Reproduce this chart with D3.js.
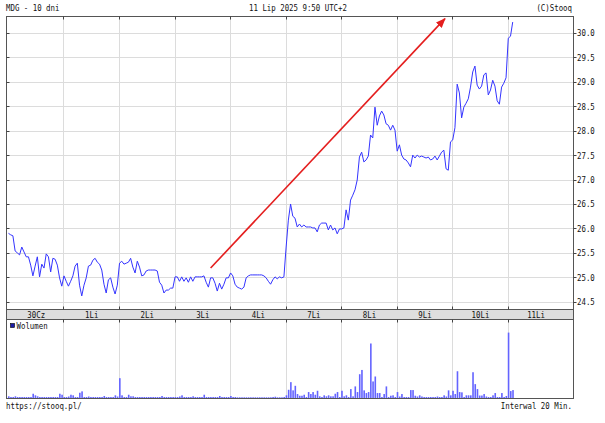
<!DOCTYPE html>
<html>
<head>
<meta charset="utf-8">
<script src="https://cdnjs.cloudflare.com/ajax/libs/d3/7.8.5/d3.min.js"></script>
<style>
  body { margin: 0; background: #fff; }
  svg { display: block; }
  text { font-family: 'DejaVu Sans Mono', monospace; font-size: 9px; fill: #111; }
</style>
</head>
<body>
<svg id="chart" width="605" height="423"></svg>
<script>
// MDG, 10 days, 20 minute bars (25 per session)
const dayLabels = ['30Cz', '1Li', '2Li', '3Li', '4Li', '7Li', '8Li', '9Li', '10Li', '11Li'];

const prices = [
  25.91, 25.88, 25.86, 25.55, 25.51, 25.47, 25.63, 25.53, 25.43, 25.43, 25.26, 25.04, 25.24, 25.43, 25.02, 25.28, 25.20, 25.49, 25.43, 25.12, 25.40, 25.38, 25.26, 25.00, 24.83,
  25.04, 24.93, 24.83, 24.93, 25.04, 25.24, 25.30, 24.85, 24.63, 24.85, 25.00, 25.24, 25.26, 25.36, 25.40, 25.32, 25.28, 25.16, 24.87, 24.69, 24.96, 25.00, 24.81, 24.67, 24.85,
  25.30, 25.34, 25.28, 25.30, 25.32, 25.40, 25.22, 25.10, 25.34, 25.22, 25.04, 25.06, 25.14, 25.16, 25.16, 25.16, 25.16, 25.14, 24.91, 24.85, 24.69, 24.75, 24.75, 24.79, 24.79,
  25.02, 25.02, 24.93, 25.02, 24.93, 25.00, 24.91, 25.02, 24.93, 25.02, 25.02, 25.02, 25.02, 25.04, 24.91, 24.81, 25.00, 25.00, 24.89, 24.73, 24.89, 24.77, 24.87, 25.00, 25.00,
  25.10, 25.04, 24.87, 24.81, 24.79, 24.77, 24.81, 25.00, 25.04, 25.06, 25.06, 25.06, 25.06, 25.06, 25.06, 25.04, 25.00, 24.93, 24.87, 24.96, 25.02, 24.98, 25.02, 25.00, 25.02,
  25.63, 26.18, 26.51, 26.26, 26.22, 26.04, 26.10, 26.04, 26.08, 26.04, 26.04, 26.04, 26.02, 26.02, 25.94, 26.08, 26.12, 26.12, 26.12, 25.98, 26.08, 25.98, 26.02, 25.90, 26.00,
  26.00, 26.02, 26.39, 26.18, 26.59, 26.69, 26.80, 27.00, 27.47, 27.57, 27.37, 27.41, 27.49, 27.92, 27.86, 28.49, 28.12, 28.31, 28.41, 28.33, 28.15, 28.12, 28.02, 28.12, 28.02,
  27.59, 27.72, 27.51, 27.43, 27.41, 27.35, 27.27, 27.51, 27.45, 27.51, 27.47, 27.49, 27.47, 27.45, 27.47, 27.41, 27.43, 27.49, 27.41, 27.49, 27.57, 27.61, 27.23, 27.20, 27.78,
  27.82, 28.07, 28.96, 28.78, 28.27, 28.49, 28.57, 28.66, 28.90, 29.21, 29.33, 28.94, 28.86, 28.92, 29.15, 29.19, 28.74, 28.84, 29.04, 28.92, 28.62, 28.55, 28.90, 28.98, 29.09,
  29.90, 29.94, 30.23,
];

const volumes = [
  170, 100, 100, 170, 100, 100, 100, 100, 100, 100, 100, 430, 270, 170, 100, 100, 100, 100, 100, 100, 100, 100, 100, 430, 330,
  100, 100, 150, 330, 270, 100, 100, 530, 670, 100, 100, 150, 100, 100, 100, 100, 100, 100, 200, 100, 100, 100, 100, 270, 150,
  2000, 270, 100, 100, 330, 170, 170, 100, 100, 100, 100, 100, 100, 100, 100, 100, 100, 100, 100, 200, 100, 100, 100, 100, 100,
  100, 100, 150, 270, 100, 100, 100, 100, 170, 100, 100, 100, 100, 330, 100, 100, 100, 100, 100, 100, 200, 100, 100, 100, 100,
  200, 100, 100, 70, 70, 70, 70, 70, 70, 70, 70, 70, 70, 70, 70, 70, 70, 70, 70, 100, 130, 70, 70, 70, 100,
  270, 830, 1600, 770, 1230, 400, 230, 230, 330, 100, 600, 400, 600, 330, 730, 170, 100, 270, 170, 270, 170, 170, 430, 600, 100,
  730, 170, 270, 100, 900, 170, 1170, 600, 2400, 2830, 770, 500, 600, 5500, 1670, 2170, 500, 500, 100, 400, 1170, 100, 230, 270, 100,
  600, 150, 400, 100, 100, 100, 800, 800, 230, 150, 270, 150, 100, 100, 100, 100, 100, 100, 150, 100, 100, 270, 150, 770, 270,
  730, 400, 2700, 600, 570, 100, 270, 270, 270, 2600, 1400, 900, 250, 250, 400, 150, 100, 100, 270, 500, 100, 100, 500, 100, 200,
  6600, 700, 800,
];

const priceTicks = d3.range(24.5, 30.01, 0.5);

// hand drawn trend arrow, in [bar index, price]
const arrowPts = [[91, 25.2], [196.5, 30.3]];

const SLOTS = 25;
const CHAR_W = 4.45;

const L = 6.5, R = 573.5, T = 16.5;
const S1 = 309.5, S2 = 319.5, B = 398.5;

const svg = d3.select('#chart');

const x = d3.scaleLinear()
  .domain([0, SLOTS * dayLabels.length])
  .range([8.46, 563.8]);

const y = d3.scaleLinear()
  .domain([24.5, 30.0])
  .range([302.3, 33.3]);

const yVol = d3.scaleLinear()
  .domain([0, d3.max(volumes) * 1.2])
  .range([398, S2]);

const crisp = (v) => Math.floor(v) + 0.5;

function squeeze(sel) {
  sel.each(function () {
    d3.select(this)
      .attr('textLength', this.textContent.length * CHAR_W)
      .attr('lengthAdjust', 'spacingAndGlyphs');
  });
}

const dayStarts = d3.range(1, dayLabels.length).map((d) => crisp(x(d * SLOTS)));

// grid
const grid = svg.append('g')
  .attr('stroke', '#dcdcdc')
  .attr('stroke-width', 1);

grid.selectAll('line.h')
  .data(priceTicks)
  .join('line')
  .attr('class', 'h')
  .attr('x1', L).attr('x2', R)
  .attr('y1', (d) => crisp(y(d))).attr('y2', (d) => crisp(y(d)));

grid.selectAll('line.v')
  .data(dayStarts)
  .join('line')
  .attr('class', 'v')
  .attr('x1', (d) => d).attr('x2', (d) => d)
  .attr('y1', T).attr('y2', S1);

grid.selectAll('line.vv')
  .data(dayStarts)
  .join('line')
  .attr('class', 'vv')
  .attr('x1', (d) => d).attr('x2', (d) => d)
  .attr('y1', S2).attr('y2', B);

// volume bars
svg.append('g')
  .attr('fill', '#6464ff')
  .selectAll('rect')
  .data(volumes)
  .join('rect')
  .attr('x', (d, i) => x(i) - 0.5)
  .attr('width', 1.6)
  .attr('y', (d) => yVol(d))
  .attr('height', (d) => yVol(0) - yVol(d));

// price line
svg.append('path')
  .datum(prices)
  .attr('fill', 'none')
  .attr('stroke', '#3434ff')
  .attr('stroke-width', 1)
  .attr('stroke-linejoin', 'round')
  .attr('d', d3.line().x((d, i) => x(i)).y((d) => y(d)));

// arrow
svg.append('defs')
  .append('marker')
  .attr('id', 'head')
  .attr('viewBox', '0 0 10 8')
  .attr('refX', 9)
  .attr('refY', 4)
  .attr('markerWidth', 10)
  .attr('markerHeight', 8)
  .attr('markerUnits', 'userSpaceOnUse')
  .attr('orient', 'auto')
  .append('path')
  .attr('d', 'M0,0L10,4L0,8z')
  .attr('fill', '#e41e1e');

svg.append('line')
  .attr('x1', x(arrowPts[0][0])).attr('y1', y(arrowPts[0][1]))
  .attr('x2', x(arrowPts[1][0])).attr('y2', y(arrowPts[1][1]))
  .attr('stroke', '#e41e1e')
  .attr('stroke-width', 1.6)
  .attr('marker-end', 'url(#head)');

// frames
const frame = svg.append('g')
  .attr('fill', 'none')
  .attr('stroke', '#555')
  .attr('stroke-width', 1);

frame.append('rect')
  .attr('x', L).attr('y', T)
  .attr('width', R - L).attr('height', S1 - T);

frame.append('rect')
  .attr('x', L).attr('y', S1)
  .attr('width', R - L).attr('height', S2 - S1)
  .attr('fill', '#dedede');

frame.append('rect')
  .attr('x', L).attr('y', S2)
  .attr('width', R - L).attr('height', B - S2);

// ticks
const ticks = svg.append('g')
  .attr('stroke', '#444')
  .attr('stroke-width', 1);

ticks.selectAll('line.yl')
  .data(priceTicks)
  .join('line')
  .attr('class', 'yl')
  .attr('x1', L).attr('x2', L + 3)
  .attr('y1', (d) => crisp(y(d))).attr('y2', (d) => crisp(y(d)));

ticks.selectAll('line.yr')
  .data(priceTicks)
  .join('line')
  .attr('class', 'yr')
  .attr('x1', R).attr('x2', R + 3)
  .attr('y1', (d) => crisp(y(d))).attr('y2', (d) => crisp(y(d)));

[[T, T + 3], [S1 - 3, S1], [S2, S2 + 3]].forEach(([a, b]) => {
  ticks.append('g')
    .selectAll('line')
    .data(dayStarts)
    .join('line')
    .attr('x1', (d) => d).attr('x2', (d) => d)
    .attr('y1', a).attr('y2', b);
});

// y labels
svg.append('g')
  .selectAll('text')
  .data(priceTicks)
  .join('text')
  .attr('x', 577)
  .attr('y', (d) => y(d) + 3)
  .text(d3.format('.1f'))
  .call(squeeze);

// day labels
svg.append('g')
  .selectAll('text')
  .data(dayLabels)
  .join('text')
  .attr('x', (d, i) => x(i * SLOTS + SLOTS / 2))
  .attr('y', 317.5)
  .attr('text-anchor', 'middle')
  .text((d) => d)
  .call(squeeze);

// legend
svg.append('rect')
  .attr('x', 10.5).attr('y', 323.5)
  .attr('width', 4).attr('height', 4)
  .attr('fill', '#1c1ca8')
  .attr('stroke', '#000')
  .attr('stroke-width', 0.6);

svg.append('text')
  .attr('x', 16.5).attr('y', 329)
  .text('Wolumen')
  .call(squeeze);

// header and footer
const captions = [
  { t: 'MDG - 10 dni', x: 6, y: 11, a: 'start' },
  { t: '11 Lip 2025 9:50 UTC+2', x: 298, y: 11, a: 'middle' },
  { t: '(C)Stooq', x: 572, y: 11, a: 'end' },
  { t: 'https://stooq.pl/', x: 6, y: 409, a: 'start' },
  { t: 'Interwal 20 Min.', x: 572, y: 409, a: 'end' },
];

svg.append('g')
  .selectAll('text')
  .data(captions)
  .join('text')
  .attr('x', (d) => d.x)
  .attr('y', (d) => d.y)
  .attr('text-anchor', (d) => d.a)
  .text((d) => d.t)
  .call(squeeze);
</script>
</body>
</html>
